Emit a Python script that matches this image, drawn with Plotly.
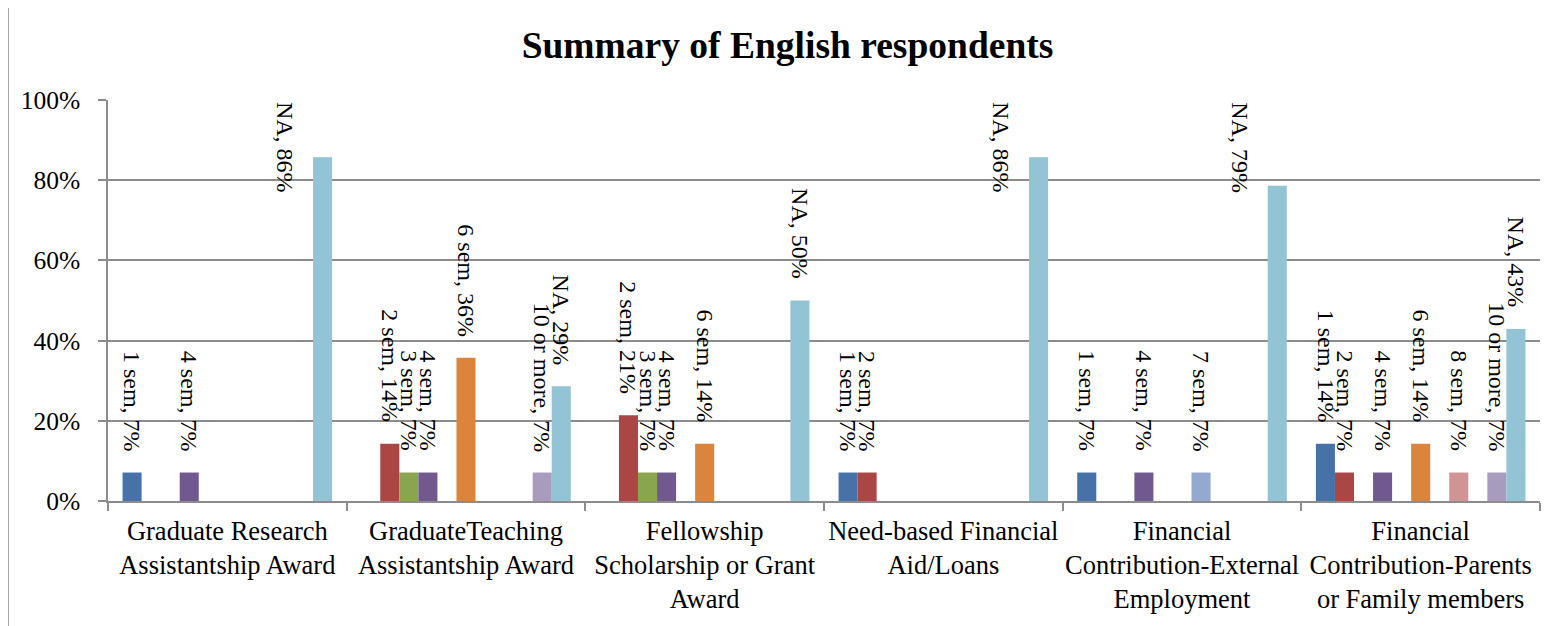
import plotly.graph_objects as go

# data (share of respondents, 14 people)
categories = [
    "Graduate Research<br>Assistantship Award",
    "GraduateTeaching<br>Assistantship Award",
    "Fellowship<br>Scholarship or Grant<br>Award",
    "Need-based Financial<br>Aid/Loans",
    "Financial<br>Contribution-External<br>Employment",
    "Financial<br>Contribution-Parents<br>or Family members",
]
series_names = ["1 sem", "2 sem", "3 sem", "4 sem", "5 sem", "6 sem",
                "7 sem", "8 sem", "9 sem", "10 or more", "NA"]

sem_1 = [0.071, 0, 0, 0.071, 0.071, 0.143]
sem_2 = [0, 0.143, 0.214, 0.071, 0, 0.071]
sem_3 = [0, 0.071, 0.071, 0, 0, 0]
sem_4 = [0.071, 0.071, 0.071, 0, 0.071, 0.071]
sem_5 = [0, 0, 0, 0, 0, 0]
sem_6 = [0, 0.357, 0.143, 0, 0, 0.143]
sem_7 = [0, 0, 0, 0, 0.071, 0]
sem_8 = [0, 0, 0, 0, 0, 0.071]
sem_9 = [0, 0, 0, 0, 0, 0]
sem_10_plus = [0, 0.071, 0, 0, 0, 0.071]
na = [0.857, 0.286, 0.5, 0.857, 0.786, 0.429]

all_series = [sem_1, sem_2, sem_3, sem_4, sem_5, sem_6,
              sem_7, sem_8, sem_9, sem_10_plus, na]

colors = ["#4672A8", "#AA4644", "#89A54E", "#71598F", "#4198AF", "#DB843D",
          "#94A9CF", "#D19393", "#B9CD96", "#A99BBD", "#93C4D5"]

FONT = "Liberation Serif, Times New Roman, serif"
GRID = "#8C8C8C"
# page has an 8px body margin, so the figure is a bit smaller than the window
W, H = 1559, 618
ML, MR, MT, MB = 100, 27, 92, 123
BARGAP = 0.122

fig = go.Figure()
for name, vals, col in zip(series_names, all_series, colors):
    fig.add_trace(go.Bar(x=categories, y=vals, name=name,
                         marker=dict(color=col, line=dict(width=0))))

# data labels, rotated, placed above each bar like excel does
n = len(series_names)
bw = (1 - BARGAP) / n
for s, (name, vals) in enumerate(zip(series_names, all_series)):
    for g, v in enumerate(vals):
        if v <= 0:
            continue
        xc = g - 0.5 + BARGAP / 2 + (s + 0.5) * bw
        txt = f"{name}, {v:.0%}"
        if v > 0.7:
            # doesn't fit above the bar -> excel pushes it to the left, under the top
            fig.add_annotation(x=xc, y=1, yanchor="top", xanchor="center",
                               xshift=-37, yshift=0, text=txt, textangle=90,
                               showarrow=False, font=dict(family=FONT, size=24, color="black"))
        else:
            fig.add_annotation(x=xc, y=v, yanchor="bottom", xanchor="center",
                               yshift=19, text=txt, textangle=90,
                               showarrow=False, font=dict(family=FONT, size=24, color="black"))

# outer chart border
pw, ph = W - ML - MR, H - MT - MB
fig.add_shape(type="rect", xref="paper", yref="paper",
              x0=-(ML - 0) / pw, x1=(W + 10 - ML) / pw,
              y0=-(MB + 10) / ph, y1=1 + (MT + 4) / ph,
              line=dict(color="#8A8A8A", width=1.5), layer="below")

fig.update_layout(
    width=W, height=H,
    margin=dict(l=ML, r=MR, t=MT, b=MB),
    barmode="group", bargap=BARGAP, bargroupgap=0,
    showlegend=False,
    plot_bgcolor="white", paper_bgcolor="white",
    font=dict(family=FONT, color="black"),
    title=dict(text="<b>Summary of English respondents</b>", x=0.5, xanchor="center",
               y=1 - 37 / H, yanchor="middle", font=dict(family=FONT, size=37.5, color="black")),
)
fig.update_xaxes(showline=True, linecolor=GRID, linewidth=1.5,
                 ticks="outside", tickson="boundaries", ticklen=8, tickcolor=GRID, tickwidth=1.5,
                 tickfont=dict(family=FONT, size=26.5, color="black"), tickangle=0,
                 ticklabelstandoff=5, showgrid=False)
fig.update_yaxes(range=[0, 1], dtick=0.2, tickformat=".0%",
                 showline=True, linecolor=GRID, linewidth=1.5,
                 ticks="outside", ticklen=8, tickcolor=GRID, tickwidth=1.5,
                 showgrid=True, gridcolor=GRID, gridwidth=1.5, zeroline=False,
                 tickfont=dict(family=FONT, size=25.5, color="black"), ticklabelstandoff=13)

fig.write_html("out.html")
